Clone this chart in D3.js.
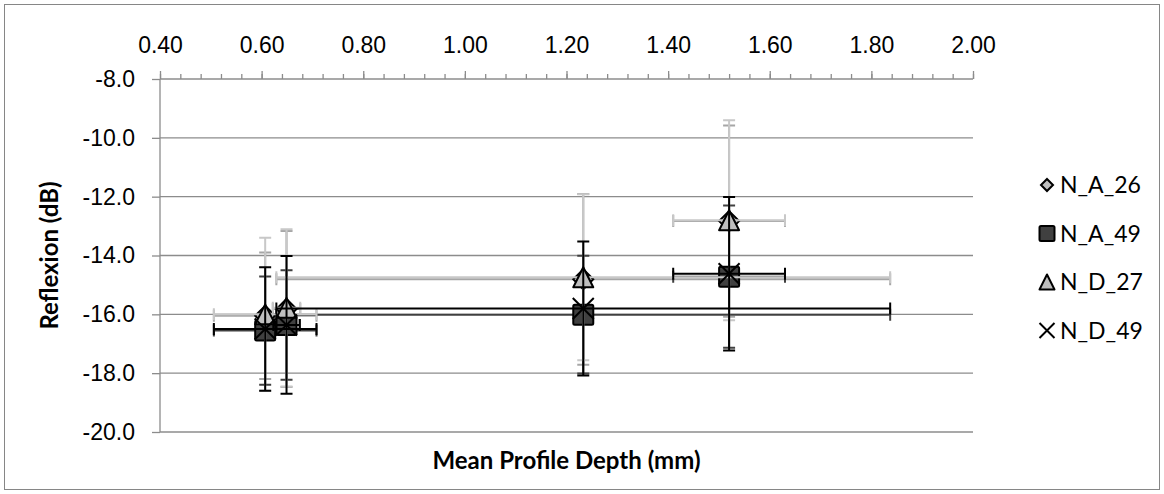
<!DOCTYPE html>
<html>
<head>
<meta charset="utf-8">
<script src="https://cdn.jsdelivr.net/npm/d3@7"></script>
<style>
  html, body { margin: 0; padding: 0; background: #fff; }
  svg { display: block; font-family: Lato, 'Open Sans', sans-serif; }
</style>
</head>
<body>
<div id="chart"></div>
<script>
// Data

const seriesNames = ['N_A_26', 'N_A_49', 'N_D_27', 'N_D_49']

const depth = {
  N_A_26: [0.607, 0.649, 1.233, 1.52],
  N_A_49: [0.607, 0.649, 1.233, 1.52],
  N_D_27: [0.607, 0.649, 1.233, 1.52],
  N_D_49: [0.607, 0.649, 1.233, 1.52],
}

const reflexion = {
  N_A_26: [-16.05, -15.82, -14.81, -12.83],
  N_A_49: [-16.55, -16.36, -16.01, -14.72],
  N_D_27: [-16.0, -15.78, -14.74, -12.8],
  N_D_49: [-16.5, -16.36, -15.8, -14.62],
}

const reflexionErr = {
  N_A_26: [2.15, 2.65, 2.9, 3.25],
  N_A_49: [1.84, 1.86, 2.0, 2.42],
  N_D_27: [2.6, 2.67, 2.82, 3.4],
  N_D_49: [2.1, 2.34, 2.28, 2.61],
}

const depthErr = {
  N_A_26: [0.101, 0.027, 0.604, 0.11],
  N_A_49: [0.101, 0.026, 0.604, 0.11],
  N_D_27: [0.101, 0.027, 0.604, 0.11],
  N_D_49: [0.101, 0.026, 0.604, 0.11],
}

const xTicks = [0.4, 0.6, 0.8, 1.0, 1.2, 1.4, 1.6, 1.8, 2.0]
const yTicks = [-8, -10, -12, -14, -16, -18, -20]

// Styles

const W = 1164
const H = 494
const M = { left: 160, right: 973, top: 79, bottom: 432 }
const FONT = '23px'

const STYLE = {
  N_A_26: { shape: 'diamond', fill: '#bfbfbf', err: '#a6a6a6' },
  N_A_49: { shape: 'square', fill: '#404040', err: '#404040' },
  N_D_27: { shape: 'triangle', fill: '#bfbfbf', err: '#c8c8c8' },
  N_D_49: { shape: 'cross', fill: 'none', err: '#000000' },
}

const svg = d3.select('#chart').append('svg').attr('width', W).attr('height', H)

svg.append('rect')
  .attr('x', 4.5).attr('y', 4.5)
  .attr('width', W - 9).attr('height', H - 9)
  .attr('fill', '#fff').attr('stroke', '#868686').attr('stroke-width', 1)

const x = d3.scaleLinear().domain([0.4, 2.0]).range([M.left, M.right])
const y = d3.scaleLinear().domain([-20, -8]).range([M.bottom, M.top])

// Grid

svg.append('g')
  .selectAll('line')
  .data(yTicks.filter(d => d !== -8))
  .join('line')
  .attr('x1', M.left).attr('x2', M.right)
  .attr('y1', d => y(d)).attr('y2', d => y(d))
  .attr('stroke', '#8c8c8c').attr('stroke-width', 1.3)

// Axes

const axisColor = '#8c8c8c'

const minorAxis = svg.append('g')
  .attr('transform', `translate(0,${M.top})`)
  .call(d3.axisTop(x).tickValues(d3.range(0.4, 2.001, 0.04)).tickSize(5).tickFormat(''))

const topAxis = svg.append('g')
  .attr('transform', `translate(0,${M.top})`)
  .call(d3.axisTop(x).tickValues(xTicks).tickSize(8).tickPadding(18).tickFormat(d => d.toFixed(2)))

const leftAxis = svg.append('g')
  .attr('transform', `translate(${M.left},0)`)
  .call(d3.axisLeft(y).tickValues(yTicks).tickSize(8).tickPadding(17).tickFormat(d => d.toFixed(1)))

for (const g of [minorAxis, topAxis, leftAxis]) {
  g.select('.domain').attr('stroke', axisColor).attr('stroke-width', 1.3)
  g.selectAll('.tick line').attr('stroke', axisColor).attr('stroke-width', 1.3)
  g.selectAll('.tick text').attr('fill', '#000').style('font-size', FONT)
}
leftAxis.select('.domain').attr('d', `M0,${M.top}V${M.bottom}`)
topAxis.select('.domain').attr('d', `M${M.left},0H${M.right}`)
minorAxis.select('.domain').remove()

// Axis titles

svg.append('text')
  .attr('x', (M.left + M.right) / 2).attr('y', 469)
  .attr('text-anchor', 'middle')
  .style('font-size', '24px').style('font-weight', 'bold')
  .text('Mean Profile Depth (mm)')

svg.append('text')
  .attr('transform', `translate(58,${(M.top + M.bottom) / 2}) rotate(-90)`)
  .attr('text-anchor', 'middle')
  .style('font-size', '24px').style('font-weight', 'bold')
  .text('Reflexion (dB)')

// Markers

function marker(g, shape, cx, cy, s, fill) {
  const h = s / 2
  if (shape === 'diamond') {
    g.append('path')
      .attr('d', `M${cx},${cy - h}L${cx + h},${cy}L${cx},${cy + h}L${cx - h},${cy}Z`)
      .attr('fill', fill).attr('stroke', '#000').attr('stroke-width', 2)
  } else if (shape === 'square') {
    g.append('rect')
      .attr('x', cx - h).attr('y', cy - h).attr('width', s).attr('height', s).attr('rx', 1.5)
      .attr('fill', fill).attr('stroke', '#000').attr('stroke-width', 2)
  } else if (shape === 'triangle') {
    g.append('path')
      .attr('d', `M${cx},${cy - h}L${cx + h},${cy + h}L${cx - h},${cy + h}Z`)
      .attr('fill', fill).attr('stroke', '#000').attr('stroke-width', 2).attr('stroke-linejoin', 'round')
  } else {
    g.append('path')
      .attr('d', `M${cx - h},${cy - h}L${cx + h},${cy + h}M${cx + h},${cy - h}L${cx - h},${cy + h}`)
      .attr('fill', 'none').attr('stroke', '#000').attr('stroke-width', 2)
  }
}

// Series

const cap = 6

seriesNames.forEach(name => {
  const st = STYLE[name]
  const g = svg.append('g')
  const pts = depth[name].map((d, i) => ({
    x: d, y: reflexion[name][i], ex: depthErr[name][i], ey: reflexionErr[name][i],
  }))

  const eb = g.append('g').attr('stroke', st.err).attr('stroke-width', 2).attr('fill', 'none')
  pts.forEach(p => {
    const cx = x(p.x)
    const cy = y(p.y)
    const y0 = y(p.y - p.ey)
    const y1 = y(p.y + p.ey)
    const x0 = x(p.x - p.ex)
    const x1 = x(p.x + p.ex)
    eb.append('path').attr('d',
      `M${cx},${y0}V${y1}M${cx - cap},${y0}H${cx + cap}M${cx - cap},${y1}H${cx + cap}` +
      `M${x0},${cy}H${x1}M${x0},${cy - cap}V${cy + cap}M${x1},${cy - cap}V${cy + cap}`)
  })

  pts.forEach(p => marker(g, st.shape, x(p.x), y(p.y), name === 'N_D_49' ? 21 : 20, st.fill))
})

// Legend

const legend = svg.append('g')
seriesNames.forEach((name, i) => {
  const cy = 185 + i * 48.5
  const st = STYLE[name]
  marker(legend, st.shape, 1047, cy, st.shape === 'diamond' ? 12 : 15, st.fill)
  legend.append('text')
    .attr('x', 1060).attr('y', cy)
    .attr('dy', '0.36em')
    .style('font-size', FONT)
    .text(name)
})
</script>
</body>
</html>
